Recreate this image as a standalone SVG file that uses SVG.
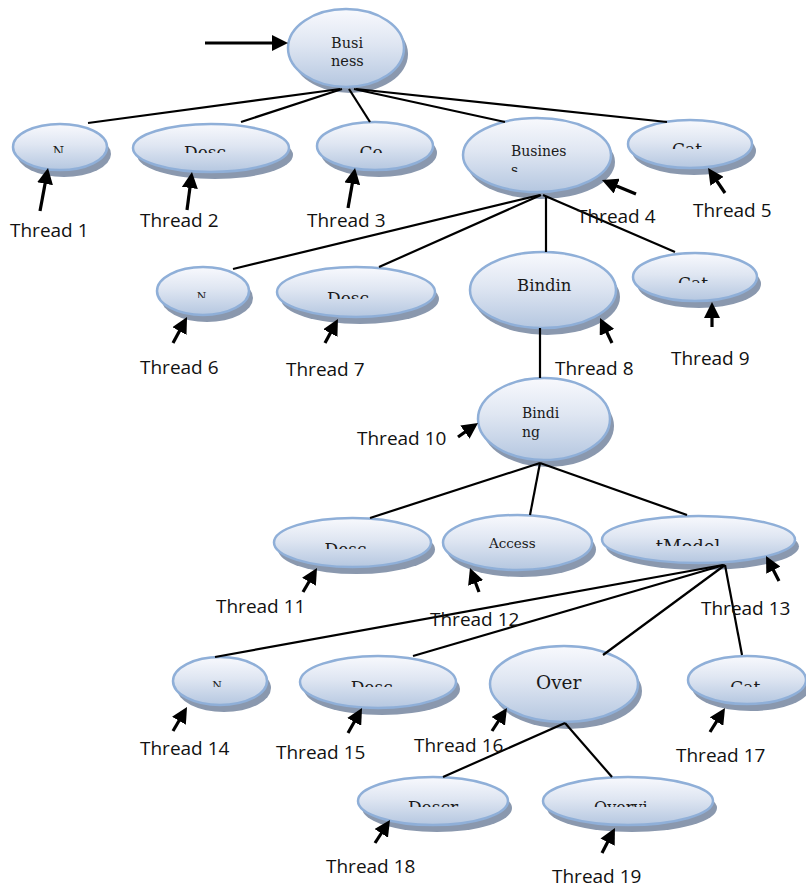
<svg xmlns="http://www.w3.org/2000/svg" width="806" height="888" viewBox="0 0 806 888">
<defs>
<linearGradient id="fillG" x1="0" y1="0" x2="0" y2="1">
<stop offset="0" stop-color="#f8f9fd"/>
<stop offset="0.45" stop-color="#dfe6f2"/>
<stop offset="1" stop-color="#b5c7e0"/>
</linearGradient>
<marker id="ah" markerUnits="userSpaceOnUse" markerWidth="16" markerHeight="16" viewBox="0 0 16 16" refX="10" refY="8" orient="auto">
<path d="M0,0 L16,8 L0,16 z" fill="#000"/>
</marker>
<clipPath id="c1"><rect x="0" y="120" width="806" height="33"/></clipPath>
<clipPath id="c2"><rect x="0" y="120" width="806" height="29"/></clipPath>
<clipPath id="c3"><rect x="0" y="160" width="806" height="12"/></clipPath>
<clipPath id="c4"><rect x="0" y="270" width="806" height="28"/></clipPath>
<clipPath id="c5"><rect x="0" y="270" width="806" height="29"/></clipPath>
<clipPath id="c6"><rect x="0" y="255" width="806" height="28"/></clipPath>
<clipPath id="c7"><rect x="0" y="520" width="806" height="29"/></clipPath>
<clipPath id="c8"><rect x="0" y="520" width="806" height="26"/></clipPath>
<clipPath id="c9"><rect x="0" y="660" width="806" height="27"/></clipPath>
<clipPath id="c10"><rect x="0" y="780" width="806" height="27"/></clipPath>
</defs>
<style>
.sh{fill:#8a98ae}
.el{fill:url(#fillG);stroke:#8fafd8;stroke-width:2.5}
.t{font-family:"DejaVu Serif","Liberation Serif",serif;fill:#1a1a1a}
.lbl{font-family:"Open Sans","DejaVu Sans",sans-serif;font-size:19px;fill:#111}
.conn line{stroke:#000;stroke-width:2.2;fill:none}
.arr line{stroke:#000;stroke-width:3.2;marker-end:url(#ah)}
</style>
<rect width="806" height="888" fill="#fff"/>

<g id="n-business-root">
<ellipse class="sh" cx="350" cy="54" rx="58" ry="39"/>
<ellipse class="el" cx="346" cy="48" rx="58" ry="39"/>
<text class="t" x="331" y="48" font-size="14.5">Busi</text>
<text class="t" x="331" y="66" font-size="14.5">ness</text>
</g>
<g id="n-name1">
<ellipse class="sh" cx="64" cy="154" rx="47" ry="23"/>
<ellipse class="el" cx="60" cy="147" rx="47" ry="23"/>
<text class="t" x="58.5" y="155.5" font-size="13" text-anchor="middle" clip-path="url(#c1)">N</text>
</g>
<g id="n-desc1">
<ellipse class="sh" cx="215" cy="155" rx="78" ry="24"/>
<ellipse class="el" cx="211" cy="148" rx="78" ry="24"/>
<text class="t" x="205" y="158.4" font-size="17" text-anchor="middle" clip-path="url(#c1)">Desc</text>
</g>
<g id="n-co">
<ellipse class="sh" cx="379" cy="153" rx="58" ry="24"/>
<ellipse class="el" cx="375" cy="146" rx="58" ry="24"/>
<text class="t" x="371" y="158.4" font-size="17" text-anchor="middle" clip-path="url(#c1)">Co</text>
</g>
<g id="n-business-service">
<ellipse class="sh" cx="541" cy="162" rx="74" ry="37"/>
<ellipse class="el" cx="537" cy="155" rx="74" ry="37"/>
<text class="t" x="511" y="156" font-size="14">Busines</text>
<text class="t" x="511" y="175" font-size="14" clip-path="url(#c3)">s</text>
</g>
<g id="n-cat1">
<ellipse class="sh" cx="694" cy="151" rx="62" ry="24"/>
<ellipse class="el" cx="690" cy="144" rx="62" ry="24"/>
<text class="t" x="687" y="155.4" font-size="17" text-anchor="middle" clip-path="url(#c2)">Cat</text>
</g>
<g id="n-name2">
<ellipse class="sh" cx="207" cy="298" rx="46" ry="24"/>
<ellipse class="el" cx="203" cy="291" rx="46" ry="24"/>
<text class="t" x="201.5" y="300" font-size="11" text-anchor="middle" clip-path="url(#c4)">N</text>
</g>
<g id="n-desc2">
<ellipse class="sh" cx="360" cy="299" rx="79" ry="25"/>
<ellipse class="el" cx="356" cy="292" rx="79" ry="25"/>
<text class="t" x="348" y="304.4" font-size="17" text-anchor="middle" clip-path="url(#c5)">Desc</text>
</g>
<g id="n-bindin">
<ellipse class="sh" cx="547" cy="297" rx="73" ry="38"/>
<ellipse class="el" cx="543" cy="290" rx="73" ry="38"/>
<text class="t" x="517" y="291" font-size="16.5">Bindin</text>
</g>
<g id="n-cat2">
<ellipse class="sh" cx="699" cy="284" rx="62" ry="24"/>
<ellipse class="el" cx="695" cy="277" rx="62" ry="24"/>
<text class="t" x="693" y="289.4" font-size="17" text-anchor="middle" clip-path="url(#c6)">Cat</text>
</g>
<g id="n-binding">
<ellipse class="sh" cx="548" cy="426" rx="66" ry="41"/>
<ellipse class="el" cx="544" cy="419" rx="66" ry="41"/>
<text class="t" x="522" y="418" font-size="14">Bindi</text>
<text class="t" x="522" y="437" font-size="14">ng</text>
</g>
<g id="n-desc3">
<ellipse class="sh" cx="356.5" cy="549.5" rx="78.5" ry="24.5"/>
<ellipse class="el" cx="352.5" cy="542.5" rx="78.5" ry="24.5"/>
<text class="t" x="345.5" y="555.4" font-size="17" text-anchor="middle" clip-path="url(#c7)">Desc</text>
</g>
<g id="n-access">
<ellipse class="sh" cx="521.5" cy="549.5" rx="74.5" ry="27.5"/>
<ellipse class="el" cx="517.5" cy="542.5" rx="74.5" ry="27.5"/>
<text class="t" x="489" y="548" font-size="13.5">Access</text>
</g>
<g id="n-tmodel">
<ellipse class="sh" cx="702.5" cy="546.5" rx="96.5" ry="23.5"/>
<ellipse class="el" cx="698.5" cy="539.5" rx="96.5" ry="23.5"/>
<text class="t" x="688" y="553.1" font-size="18" text-anchor="middle" clip-path="url(#c8)">tModel</text>
</g>
<g id="n-name3">
<ellipse class="sh" cx="224" cy="688" rx="47" ry="24"/>
<ellipse class="el" cx="220" cy="681" rx="47" ry="24"/>
<text class="t" x="217" y="688.5" font-size="11" text-anchor="middle" clip-path="url(#c9)">N</text>
</g>
<g id="n-desc4">
<ellipse class="sh" cx="382" cy="689" rx="78" ry="26"/>
<ellipse class="el" cx="378" cy="682" rx="78" ry="26"/>
<text class="t" x="371.7" y="693.4" font-size="17" text-anchor="middle" clip-path="url(#c9)">Desc</text>
</g>
<g id="n-over">
<ellipse class="sh" cx="568" cy="691" rx="74" ry="38"/>
<ellipse class="el" cx="564" cy="684" rx="74" ry="38"/>
<text class="t" x="536" y="689" font-size="18.5">Over</text>
</g>
<g id="n-cat3">
<ellipse class="sh" cx="751" cy="687" rx="59" ry="24"/>
<ellipse class="el" cx="747" cy="680" rx="59" ry="24"/>
<text class="t" x="745.3" y="693.4" font-size="17" text-anchor="middle" clip-path="url(#c9)">Cat</text>
</g>
<g id="n-descr">
<ellipse class="sh" cx="437" cy="808" rx="75" ry="24"/>
<ellipse class="el" cx="433" cy="801" rx="75" ry="24"/>
<text class="t" x="433" y="813.4" font-size="17" text-anchor="middle" clip-path="url(#c10)">Descr</text>
</g>
<g id="n-overvi">
<ellipse class="sh" cx="632" cy="808" rx="85" ry="24"/>
<ellipse class="el" cx="628" cy="801" rx="85" ry="24"/>
<text class="t" x="620.8" y="812.7" font-size="16" text-anchor="middle" clip-path="url(#c10)">Overvi</text>
</g>

<g id="connectors" class="conn">
<line x1="340" y1="89" x2="88" y2="123"/>
<line x1="342" y1="89" x2="241" y2="122"/>
<line x1="349" y1="89" x2="370" y2="122"/>
<line x1="354" y1="89" x2="505" y2="122"/>
<line x1="356" y1="89" x2="667" y2="122"/>
<line x1="540" y1="195" x2="233" y2="269"/>
<line x1="541" y1="195" x2="379" y2="267"/>
<line x1="546" y1="196" x2="546" y2="252"/>
<line x1="543" y1="195" x2="675" y2="252"/>
<line x1="540" y1="328" x2="540" y2="378"/>
<line x1="540" y1="463" x2="370" y2="518"/>
<line x1="540" y1="463" x2="530" y2="515"/>
<line x1="540" y1="463" x2="687" y2="515"/>
<line x1="723" y1="565" x2="215" y2="657"/>
<line x1="724" y1="565" x2="413" y2="656"/>
<line x1="725" y1="565" x2="603" y2="655"/>
<line x1="725" y1="565" x2="742" y2="655"/>
<line x1="565" y1="723" x2="443" y2="777"/>
<line x1="565" y1="723" x2="612" y2="777"/>
</g>

<g id="thread-arrows" class="arr">
<line x1="205" y1="43" x2="282" y2="43"/>
<line x1="40" y1="211" x2="46.9" y2="173.9"/>
<line x1="187" y1="210" x2="191.2" y2="178"/>
<line x1="348" y1="208" x2="354" y2="173.9"/>
<line x1="636" y1="194" x2="607.5" y2="182.3"/>
<line x1="725" y1="193" x2="711.4" y2="173"/>
<line x1="173" y1="343" x2="184.2" y2="322.3"/>
<line x1="325" y1="343" x2="335.1" y2="324.3"/>
<line x1="612" y1="343" x2="602.6" y2="323.4"/>
<line x1="712" y1="327" x2="712" y2="308"/>
<line x1="458" y1="437" x2="473.1" y2="426.4"/>
<line x1="303" y1="592" x2="314" y2="573.2"/>
<line x1="479" y1="592" x2="472.1" y2="573.6"/>
<line x1="779" y1="581" x2="768.8" y2="561.3"/>
<line x1="173" y1="731" x2="184" y2="712.2"/>
<line x1="348" y1="733" x2="359.1" y2="713.2"/>
<line x1="492" y1="731" x2="503.7" y2="713"/>
<line x1="710" y1="732" x2="721.8" y2="713.1"/>
<line x1="375" y1="843" x2="386.7" y2="825"/>
<line x1="602" y1="853" x2="612.2" y2="833.3"/>
</g>

<g id="thread-labels" class="lbl">
<text x="10" y="237">Thread 1</text>
<text x="140" y="227">Thread 2</text>
<text x="307" y="227">Thread 3</text>
<text x="577" y="223">Thread 4</text>
<text x="693" y="217">Thread 5</text>
<text x="140" y="374">Thread 6</text>
<text x="286" y="376">Thread 7</text>
<text x="555" y="375">Thread 8</text>
<text x="671" y="365">Thread 9</text>
<text x="357" y="445">Thread 10</text>
<text x="216" y="613">Thread 11</text>
<text x="430" y="626">Thread 12</text>
<text x="701" y="615">Thread 13</text>
<text x="140" y="755">Thread 14</text>
<text x="276" y="759">Thread 15</text>
<text x="414" y="752">Thread 16</text>
<text x="676" y="762">Thread 17</text>
<text x="326" y="873">Thread 18</text>
<text x="552" y="883">Thread 19</text>
</g>
</svg>
